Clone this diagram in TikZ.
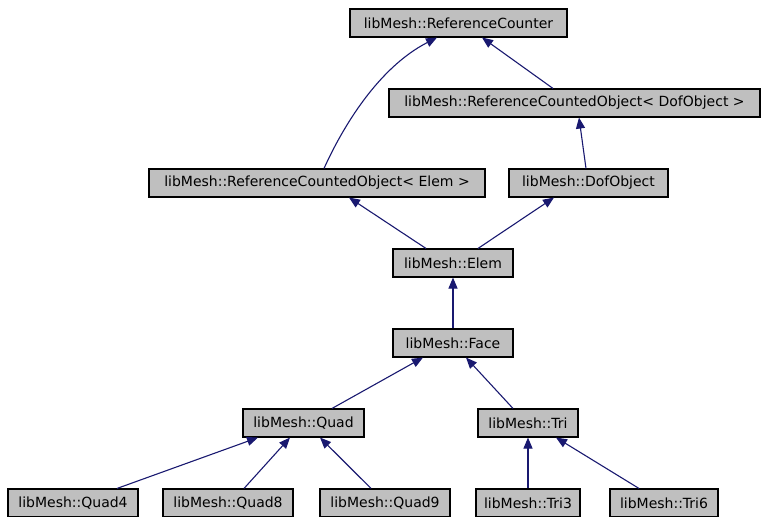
\documentclass[tikz,border=0pt]{standalone}
\usepackage{fontspec}
\setmainfont{DejaVu Sans}
\usetikzlibrary{arrows.meta,calc}
\definecolor{edgeblue}{HTML}{191970}
\definecolor{boxgray}{HTML}{BFBFBF}
\tikzset{
  cls/.style={draw=black, fill=boxgray, line width=1.1pt, minimum height=28pt,
    inner sep=0pt, font=\fontsize{14}{16}\selectfont, anchor=center},
  inh/.style={draw=edgeblue, line width=1.1pt, -{Triangle[length=11pt,width=9pt]}}
}
\begin{document}
\begin{tikzpicture}[x=1pt,y=-1pt]
\useasboundingbox (0,0) rectangle (761,517);
\node[cls, minimum width=217pt] (rc) at (458.5,23) {libMesh::ReferenceCounter};
\node[cls, minimum width=371pt] (rcodof) at (574.5,103) {libMesh::ReferenceCountedObject< DofObject >};
\node[cls, minimum width=336pt] (rcoelem) at (317,183) {libMesh::ReferenceCountedObject< Elem >};
\node[cls, minimum width=159pt] (dof) at (588.5,183) {libMesh::DofObject};
\node[cls, minimum width=120pt] (elem) at (453,263) {libMesh::Elem};
\node[cls, minimum width=120pt] (face) at (453,343) {libMesh::Face};
\node[cls, minimum width=121pt] (quad) at (303.5,423) {libMesh::Quad};
\node[cls, minimum width=100pt] (tri) at (528,423) {libMesh::Tri};
\node[cls, minimum width=130pt] (quad4) at (73,503) {libMesh::Quad4};
\node[cls, minimum width=130pt] (quad8) at (228,503) {libMesh::Quad8};
\node[cls, minimum width=130pt] (quad9) at (385,503) {libMesh::Quad9};
\node[cls, minimum width=104pt] (tri3) at (528,503) {libMesh::Tri3};
\node[cls, minimum width=108pt] (tri6) at (664,503) {libMesh::Tri6};

\draw[inh] ($(rcodof.north)+(-21.5,0)$) -- ($(rc.south)+(23.5,0)$);
\draw[inh] ($(rcoelem.north)+(7,0)$) .. controls ($(rcoelem.north)+(26,-42)$) and ($(rc.south)+(-80,30)$) .. ($(rc.south)+(-21.5,0)$);
\draw[inh] ($(dof.north)+(-2.5,0)$) -- ($(rcodof.south)+(4.5,0)$);
\draw[inh] ($(elem.north)+(-27,0)$) -- ($(rcoelem.south)+(32,0)$);
\draw[inh] ($(elem.north)+(25,0)$) -- ($(dof.south)+(-34.5,0)$);
\draw[inh] (face.north) -- (elem.south);
\draw[inh] ($(quad.north)+(28.5,0)$) -- ($(face.south)+(-30,0)$);
\draw[inh] ($(tri.north)+(-15,0)$) -- ($(face.south)+(13,0)$);
\draw[inh] ($(quad4.north)+(44,0)$) -- ($(quad.south)+(-45.5,0)$);
\draw[inh] ($(quad8.north)+(16,0)$) -- ($(quad.south)+(-13.5,0)$);
\draw[inh] ($(quad9.north)+(-14,0)$) -- ($(quad.south)+(16.5,0)$);
\draw[inh] (tri3.north) -- (tri.south);
\draw[inh] ($(tri6.north)+(-25,0)$) -- ($(tri.south)+(28,0)$);
\end{tikzpicture}
\end{document}
